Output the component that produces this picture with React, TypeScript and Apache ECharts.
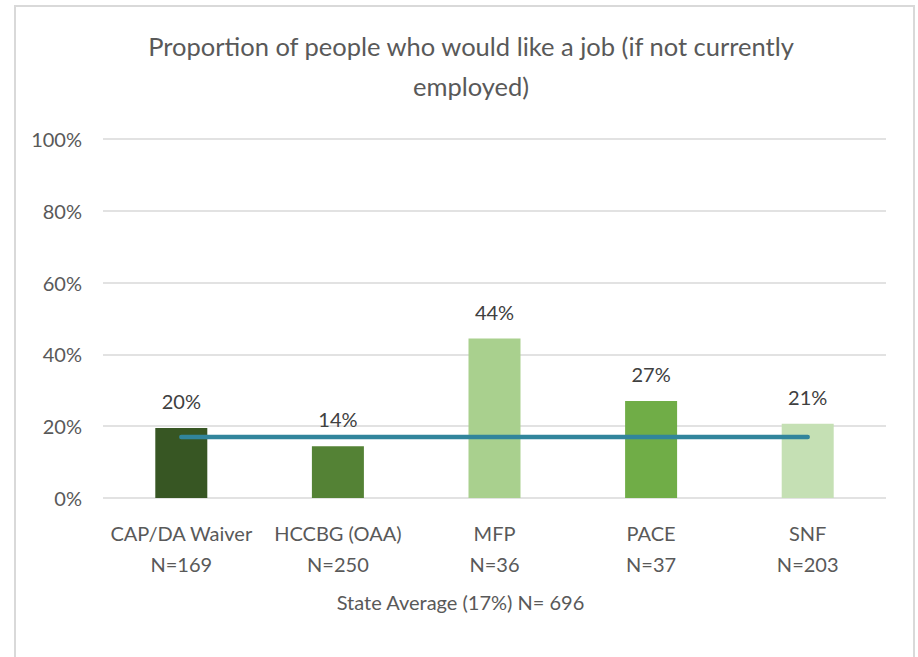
import React, { useEffect, useRef } from "react";
import * as echarts from "echarts";

const categories = ["CAP/DA Waiver\nN=169", "HCCBG (OAA)\nN=250", "MFP\nN=36", "PACE\nN=37", "SNF\nN=203"];
const values = [19.5, 14.4, 44.4, 27.0, 20.7];
const labels = ["20%", "14%", "44%", "27%", "21%"];
const barColors = ["#375623", "#548235", "#A9D08E", "#70AD47", "#C5E0B4"];
const stateAverage = [17, 17, 17, 17, 17];
const yTicks = [0, 20, 40, 60, 80, 100];

const FONT = "Lato, 'Open Sans', sans-serif";
const TXT = "#595959";

export default function App() {
  const ref = useRef<HTMLDivElement>(null);
  useEffect(() => {
    if (!ref.current) return;
    const chart = echarts.init(ref.current, null, { renderer: "svg" });
    chart.setOption({
      animation: false,
      backgroundColor: "#ffffff",
      textStyle: { fontFamily: FONT },
      title: {
        text: "Proportion of people who would like a job (if not currently\nemployed)",
        left: 466,
        top: 21,
        textAlign: "center",
        textStyle: { fontFamily: FONT, fontSize: 25.5, fontWeight: "normal", color: TXT, lineHeight: 40 },
      },
      grid: { left: 103, right: 32, top: 139, bottom: 159 },
      xAxis: {
        type: "category",
        data: categories,
        axisLine: { show: false },
        axisTick: { show: false },
        axisLabel: { color: TXT, fontSize: 20, fontFamily: FONT, lineHeight: 31, margin: 19, interval: 0 },
        name: "State Average (17%) N= 696",
        nameLocation: "middle",
        nameGap: 94,
        nameTextStyle: { color: TXT, fontSize: 20, fontFamily: FONT, padding: [0, 68, 0, 0] },
      },
      yAxis: {
        type: "value",
        min: yTicks[0],
        max: yTicks[yTicks.length - 1],
        interval: 20,
        axisLine: { show: false },
        axisTick: { show: false },
        splitLine: { lineStyle: { color: "#D9D9D9", width: 1.5 } },
        axisLabel: { color: TXT, fontSize: 20, fontFamily: FONT, margin: 21, formatter: (v: number) => v + "%" },
      },
      series: [
        {
          type: "bar",
          barWidth: 52,
          data: values.map((v, i) => ({ value: v, itemStyle: { color: barColors[i] } })),
          label: {
            show: true,
            position: "top",
            distance: 17,
            color: "#404040",
            fontSize: 20,
            fontFamily: FONT,
            formatter: (p: any) => labels[p.dataIndex],
          },
        },
        {
          type: "line",
          data: stateAverage,
          symbol: "none",
          lineStyle: { color: "#31859C", width: 4.5, cap: "round" },
          z: 5,
        },
      ],
      graphic: [
        {
          type: "rect",
          shape: { x: 15, y: 6, width: 899, height: 700 },
          style: { fill: "none", stroke: "#D9D9D9", lineWidth: 2 },
          silent: true,
        },
      ],
    });
    return () => chart.dispose();
  }, []);
  return <div ref={ref} style={{ position: "fixed", left: 0, top: 0, width: 918, height: 657 }} />;
}
